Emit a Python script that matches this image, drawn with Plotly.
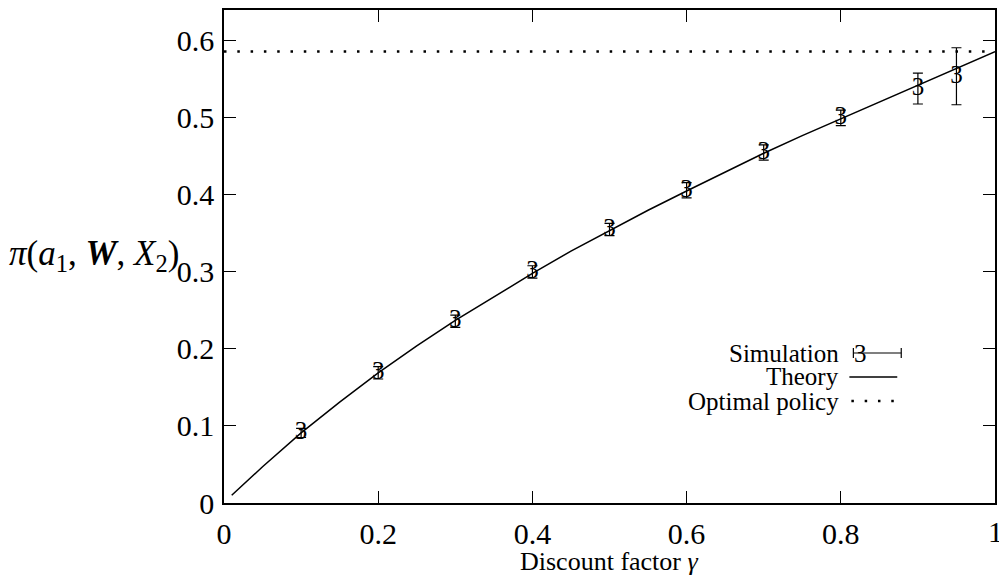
import plotly.graph_objects as go

# Theory curve
theory_x = [0.01, 0.05, 0.10, 0.15, 0.20, 0.25, 0.30, 0.35, 0.40, 0.45, 0.50,
            0.55, 0.60, 0.65, 0.70, 0.75, 0.80, 0.85, 0.90, 0.95, 1.00]
theory_y = [0.010, 0.047, 0.091, 0.131, 0.169, 0.204, 0.237, 0.268, 0.298, 0.327, 0.354,
            0.380, 0.405, 0.430, 0.454, 0.477, 0.499, 0.521, 0.543, 0.565, 0.586]

# Simulation points with error bars
sim_x = [0.1, 0.2, 0.3, 0.4, 0.5, 0.6, 0.7, 0.8, 0.9, 0.95]
sim_y = [0.091, 0.169, 0.236, 0.300, 0.355, 0.406, 0.455, 0.500, 0.538, 0.554]
sim_err = [0.006, 0.008, 0.008, 0.008, 0.008, 0.010, 0.010, 0.010, 0.020, 0.037]

# Optimal policy level
opt_x = [0.0, 1.0]
opt_y = [0.586, 0.586]

x_ticks = [0, 0.2, 0.4, 0.6, 0.8, 1]
x_tick_labels = ["0", "0.2", "0.4", "0.6", "0.8", "1"]
y_ticks = [0, 0.1, 0.2, 0.3, 0.4, 0.5, 0.6]
y_tick_labels = ["0", "0.1", "0.2", "0.3", "0.4", "0.5", "0.6"]

FONT = "Liberation Serif"
L, R, T, B = 224, 2, 10, 74
W, H = 999, 577


def px_x(p):
    return (p - L) / (W - L - R)


def px_y(p):
    return (H - B - p) / (H - B - T)


fig = go.Figure()

fig.add_trace(go.Scatter(
    x=opt_x, y=opt_y, mode="lines",
    line=dict(color="black", width=2.5, dash="2.5px,10.8px"),
    showlegend=False, hoverinfo="skip"))

fig.add_trace(go.Scatter(
    x=theory_x, y=theory_y, mode="lines",
    line=dict(color="black", width=1.5),
    showlegend=False))

fig.add_trace(go.Scatter(
    x=sim_x, y=sim_y, mode="text",
    text=["3"] * len(sim_x), textposition="middle center",
    textfont=dict(family=FONT, size=25, color="black"),
    error_y=dict(type="data", array=sim_err, visible=True,
                 color="black", thickness=1.2, width=5),
    showlegend=False))

# legend (drawn manually: text right-aligned, sample to the right)
leg_items = [("Simulation", 353), ("Theory", 377), ("Optimal policy", 401)]
for label, ypix in leg_items:
    fig.add_annotation(xref="paper", yref="paper", x=px_x(842), y=px_y(ypix),
                       text=label, showarrow=False, xanchor="right", yanchor="middle",
                       borderpad=0,
                       font=dict(family=FONT, size=25, color="black"))

# Simulation sample
fig.add_annotation(xref="paper", yref="paper", x=px_x(862), y=px_y(353), text="3",
                   showarrow=False, xanchor="center", yanchor="middle", borderpad=0,
                   font=dict(family=FONT, size=25, color="black"))
fig.add_shape(type="line", xref="paper", yref="paper", x0=px_x(855), x1=px_x(903),
              y0=px_y(353), y1=px_y(353), line=dict(color="black", width=1.2))
for xx in (855, 903):
    fig.add_shape(type="line", xref="paper", yref="paper", x0=px_x(xx), x1=px_x(xx),
                  y0=px_y(348), y1=px_y(358), line=dict(color="black", width=1.2))
# Theory sample
fig.add_shape(type="line", xref="paper", yref="paper", x0=px_x(851), x1=px_x(899),
              y0=px_y(377), y1=px_y(377), line=dict(color="black", width=1.5))
# Optimal policy sample
fig.add_shape(type="line", xref="paper", yref="paper", x0=px_x(853), x1=px_x(903),
              y0=px_y(401), y1=px_y(401),
              line=dict(color="black", width=2.5, dash="2.5px,10.8px"))

# y-axis title
fig.add_annotation(xref="paper", yref="paper", x=px_x(6), y=px_y(256),
                   xanchor="left", yanchor="middle", showarrow=False,
                   text="<i>π</i>(<i>a</i><sub>1</sub>, <b><i>W</i></b>, <i>X</i><sub>2</sub>)",
                   font=dict(family=FONT, size=35, color="black"))

# x-axis title
fig.add_annotation(xref="paper", yref="paper", x=px_x(610), y=px_y(561),
                   xanchor="center", yanchor="middle", showarrow=False, borderpad=0,
                   text="Discount factor <i>γ</i>",
                   font=dict(family=FONT, size=26, color="black"))

# last x tick label (sits on the page edge, partly cut like the reference)
fig.add_annotation(xref="x", yref="paper", x=x_ticks[-1], y=px_y(531),
                   xanchor="center", yanchor="middle", showarrow=False, borderpad=0,
                   text=x_tick_labels[-1],
                   font=dict(family=FONT, size=30, color="black"))

axis_common = dict(showgrid=False, zeroline=False, showline=True, linecolor="black",
                   linewidth=1.5, mirror="ticks", ticks="inside", ticklen=12,
                   tickcolor="black", tickwidth=1.2,
                   tickfont=dict(family=FONT, size=30, color="black"))

fig.update_layout(
    width=W, height=H,
    margin=dict(l=L, r=R, t=T, b=B),
    paper_bgcolor="white", plot_bgcolor="white",
    xaxis=dict(range=[0, 1], tickvals=x_ticks[:-1], ticktext=x_tick_labels[:-1],
               ticklabelstandoff=3, **axis_common),
    yaxis=dict(range=[0, 0.64], tickvals=y_ticks, ticktext=y_tick_labels,
               ticklabelstandoff=2, **axis_common),
)

fig.write_html("out.html")
